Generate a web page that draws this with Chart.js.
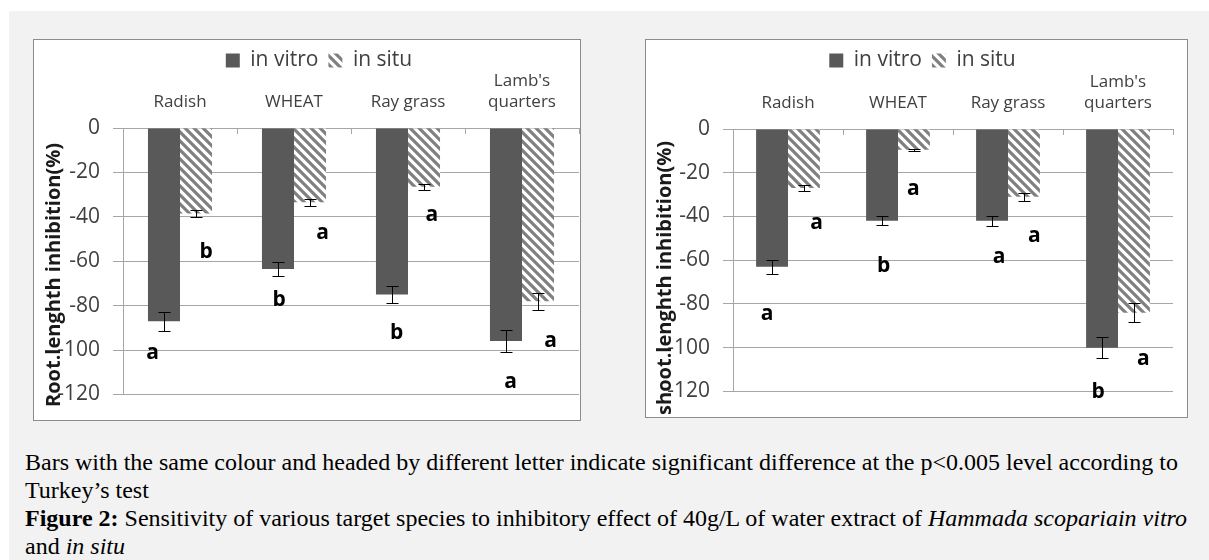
<!DOCTYPE html>
<html>
<head>
<meta charset="utf-8">
<script src="https://cdn.jsdelivr.net/npm/chart.js@4"></script>
<style>
  body { margin: 0; background: #fff; width: 1209px; height: 560px; overflow: hidden; position: relative; }
  #bg { position: absolute; left: 9px; top: 11px; right: 0; bottom: 0; background: #f2f2f2; }
  .box { position: absolute; border: 1px solid #8c8c8c; background: #fff; }
  .box canvas { display: block; }
  #caption { position: absolute; left: 25px; top: 448px; font: 24px/28px 'Liberation Serif', 'Times New Roman', serif; color: #000; white-space: nowrap; }
</style>
</head>
<body>
<div id="bg"></div>
<div class="box" style="left:33px;top:39px;width:546px;height:380px"><canvas id="root" width="546" height="380"></canvas></div>
<div class="box" style="left:645px;top:39px;width:541px;height:377px"><canvas id="shoot" width="541" height="377"></canvas></div>
<div id="caption">Bars with the same colour and headed by different letter indicate significant difference at the p&lt;0.005 level according to<br>Turkey’s test<br><b>Figure 2:</b> Sensitivity of various target species to inhibitory effect of 40g/L of water extract of <i>Hammada scopariain vitro</i><br>and <i>in situ</i></div>
<script>
const categories = ['Radish', 'WHEAT', 'Ray grass', ["Lamb's", 'quarters']];
const seriesNames = ['in vitro', 'in situ'];

// root length inhibition (%)
const rootVitro = [-87, -63.5, -75, -96];
const rootSitu = [-38.5, -33.5, -26.5, -78];
const rootVitroErr = [4.3, 3.2, 3.7, 4.8];
const rootSituErr = [1.7, 1.5, 1.3, 3.9];
const rootVitroLetters = ['a', 'b', 'b', 'a'];
const rootSituLetters = ['b', 'a', 'a', 'a'];
const rootVitroLetterAt = [-104, -80, -95, -117];
const rootSituLetterAt = [-58.5, -50, -42, -98.5];
const rootVitroLetterDx = [-0.24, -0.13, -0.1, -0.1];
const rootSituLetterDx = [0.23, 0.25, 0.21, 0.25];

// shoot length inhibition (%)
const shootVitro = [-63, -42, -42, -100];
const shootSitu = [-27, -9.5, -31, -84];
const shootVitroErr = [3.2, 2.1, 2.2, 4.8];
const shootSituErr = [1.4, 0.5, 1.7, 4.2];
const shootVitroLetters = ['a', 'b', 'a', 'b'];
const shootSituLetters = ['a', 'a', 'a', 'a'];
const shootVitroLetterAt = [-87.3, -65.4, -61.5, -122.8];
const shootSituLetterAt = [-45.7, -30.4, -51.5, -107.9];
const shootVitroLetterDx = [-0.19, -0.13, -0.08, -0.18];
const shootSituLetterDx = [0.26, 0.14, 0.24, 0.23];

Chart.defaults.font.family = "'Open Sans', sans-serif";

function makeHatch() {
    const c = document.createElement('canvas');
    c.width = 9;
    c.height = 9;
    const g = c.getContext('2d');
    g.fillStyle = '#fff';
    g.fillRect(0, 0, 9, 9);
    g.strokeStyle = '#808080';
    g.lineWidth = 3.2;
    g.beginPath();
    for (const o of [-9, 0, 9]) {
        g.moveTo(o - 2, -2);
        g.lineTo(o + 11, 11);
    }
    g.stroke();
    return g.createPattern(c, 'repeat');
}

function annotations(cfg) {
    return {
        id: 'annotations',
        beforeInit(chart) {
            // keep the legend short so the two-line category label is not clipped
            const fit = chart.legend.fit;
            chart.legend.fit = function () {
                fit.call(this);
                this.height = cfg.legendH;
            };
        },
        afterLayout(chart) {
            chart.legend.left = cfg.legendLeft;
        },
        afterDatasetsDraw(chart) {
            const ctx = chart.ctx;
            const x = chart.scales.x, y = chart.scales.y;
            const catW = x.width / categories.length;
            ctx.save();
            ctx.strokeStyle = '#000';
            ctx.lineWidth = 1;
            [cfg.vitroErr, cfg.situErr].forEach((errs, d) => {
                const vals = d === 0 ? cfg.vitro : cfg.situ;
                chart.getDatasetMeta(d).data.forEach((bar, i) => {
                    const bx = Math.round(bar.x) + 0.5;
                    const y1 = Math.round(y.getPixelForValue(vals[i] + errs[i])) + 0.5;
                    const y2 = Math.round(y.getPixelForValue(vals[i] - errs[i])) + 0.5;
                    ctx.beginPath();
                    ctx.moveTo(bx, y1); ctx.lineTo(bx, y2);
                    ctx.moveTo(bx - 6, y1); ctx.lineTo(bx + 6, y1);
                    ctx.moveTo(bx - 6, y2); ctx.lineTo(bx + 6, y2);
                    ctx.stroke();
                });
            });
            ctx.fillStyle = '#000';
            ctx.font = "bold 21px 'Open Sans', sans-serif";
            ctx.textAlign = 'center';
            ctx.textBaseline = 'alphabetic';
            categories.forEach((c, i) => {
                const cx = x.getPixelForValue(i);
                ctx.fillText(cfg.vitroLetters[i], cx + cfg.vitroDx[i] * catW, y.getPixelForValue(cfg.vitroAt[i]));
                ctx.fillText(cfg.situLetters[i], cx + cfg.situDx[i] * catW, y.getPixelForValue(cfg.situAt[i]));
            });
            ctx.restore();
        },
        afterDraw(chart) {
            const ctx = chart.ctx;
            ctx.save();
            ctx.translate(cfg.titleX, cfg.titleTop);
            ctx.rotate(-Math.PI / 2);
            ctx.font = "bold 20px 'Open Sans', sans-serif";
            ctx.fillStyle = '#1a1a1a';
            ctx.textAlign = 'right';
            ctx.textBaseline = 'middle';
            ctx.fillText(cfg.title, 0, 0);
            ctx.restore();
        }
    };
}

function buildChart(id, cfg) {
    const hatch = makeHatch();
    new Chart(document.getElementById(id), {
        type: 'bar',
        data: {
            labels: categories,
            datasets: [
                { label: seriesNames[0], data: cfg.vitro, backgroundColor: '#595959', borderWidth: 0 },
                { label: seriesNames[1], data: cfg.situ, backgroundColor: hatch, borderWidth: 0 }
            ]
        },
        options: {
            responsive: false,
            animation: false,
            events: [],
            categoryPercentage: cfg.catPct,
            barPercentage: 1,
            layout: { padding: { left: 0, right: cfg.padR, top: 0, bottom: cfg.padB } },
            plugins: {
                legend: {
                    position: 'top',
                    labels: { font: { size: 21 }, color: '#404040', boxWidth: 14, boxHeight: 14, padding: 10 }
                },
                tooltip: { enabled: false }
            },
            scales: {
                x: {
                    position: 'top',
                    grid: { drawOnChartArea: false, tickLength: -6, color: '#a6a6a6', offset: true },
                    border: { color: '#a6a6a6' },
                    ticks: { font: { size: 17 }, color: '#404040', padding: 22, maxRotation: 0, autoSkip: false },
                    afterFit: s => { s.height = cfg.xH; }
                },
                y: {
                    min: -120,
                    max: 0,
                    ticks: { stepSize: 20, font: { size: 21 }, color: '#404040', padding: 13 },
                    grid: { color: '#a6a6a6', tickLength: 10 },
                    border: { color: '#a6a6a6' },
                    afterFit: s => { s.width = cfg.yW; }
                }
            }
        },
        plugins: [annotations(cfg)]
    });
}

buildChart('root', {
    vitro: rootVitro, situ: rootSitu, vitroErr: rootVitroErr, situErr: rootSituErr,
    vitroLetters: rootVitroLetters, situLetters: rootSituLetters,
    vitroAt: rootVitroLetterAt, situAt: rootSituLetterAt,
    vitroDx: rootVitroLetterDx, situDx: rootSituLetterDx,
    title: 'Root.lenghth inhibition(%)', titleX: 20, titleTop: 103,
    catPct: 0.562, padR: 1, padB: 17, legendH: 28, legendLeft: 25, xH: 60, yW: 89
});

buildChart('shoot', {
    vitro: shootVitro, situ: shootSitu, vitroErr: shootVitroErr, situErr: shootSituErr,
    vitroLetters: shootVitroLetters, situLetters: shootSituLetters,
    vitroAt: shootVitroLetterAt, situAt: shootSituLetterAt,
    vitroDx: shootVitroLetterDx, situDx: shootSituLetterDx,
    title: 'shoot.lenghth inhibition(%)', titleX: 19, titleTop: 101,
    catPct: 0.58, padR: 14, padB: 14, legendH: 28, legendLeft: 26, xH: 61, yW: 87
});
</script>
</body>
</html>
